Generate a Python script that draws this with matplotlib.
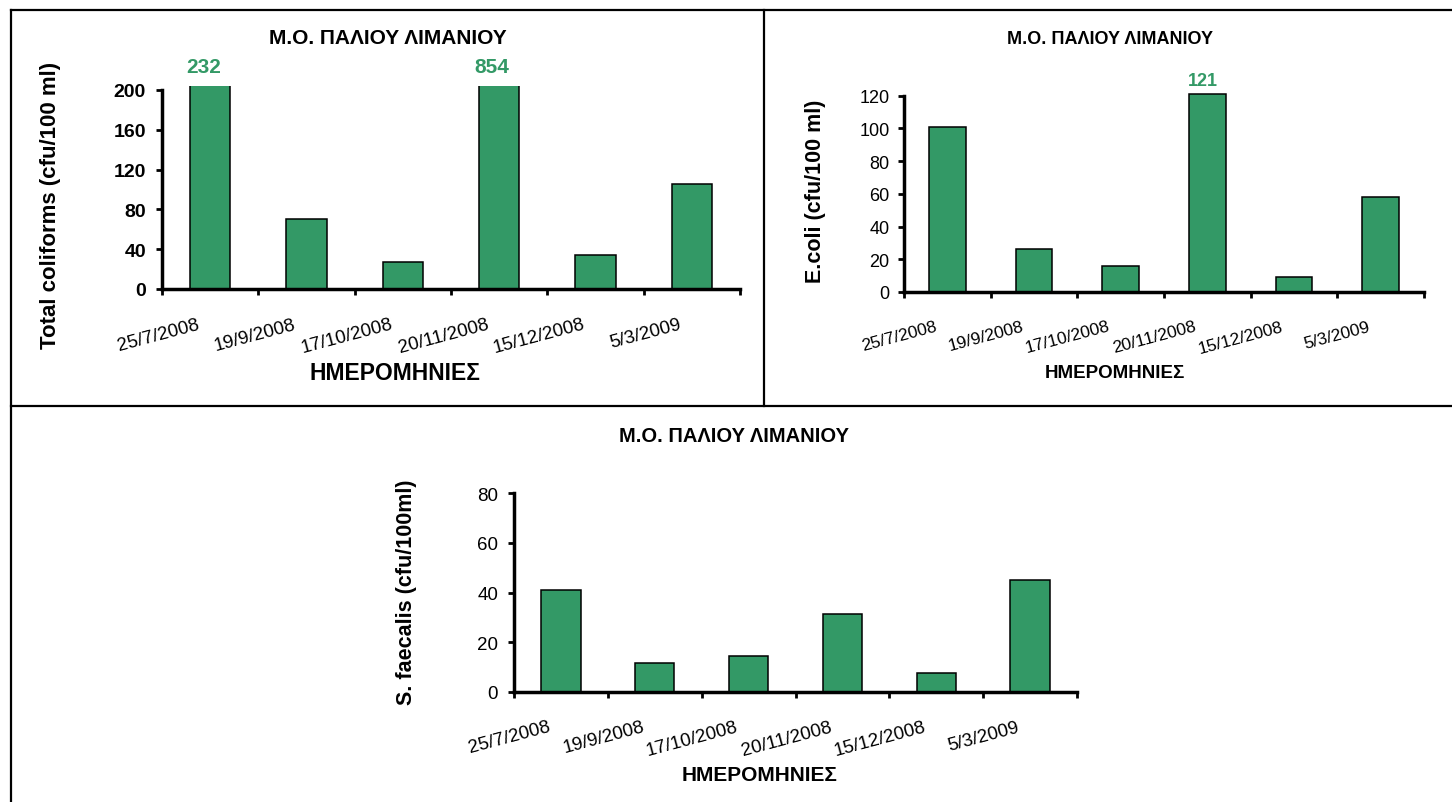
import matplotlib
matplotlib.use("Agg")
import matplotlib.pyplot as plt
from matplotlib.lines import Line2D
from matplotlib.transforms import ScaledTranslation

plt.rcParams['font.family'] = ['Liberation Sans', 'DejaVu Sans']

# Δεδομένα
dates = ['25/7/2008', '19/9/2008', '17/10/2008', '20/11/2008', '15/12/2008', '5/3/2009']
total_coliforms = [232, 70, 27, 854, 34, 106]
e_coli = [101, 26, 16, 121, 9, 58]
s_faecalis = [41, 11.5, 14.5, 31.5, 7.5, 45]

title = 'Μ.Ο. ΠΑΛΙΟΥ ΛΙΜΑΝΙΟΥ'
xlabel = 'ΗΜΕΡΟΜΗΝΙΕΣ'
green = '#339966'

W, H = 1452, 803
fig = plt.figure(figsize=(W / 100, H / 100), dpi=100)


def fx(x):
    return x / W


def fy(y):
    return 1 - y / H


def bar_panel(rect, values, ymax, ytop, yticks, tick_bold, ytick_size, xtick_size, ypad):
    ax = fig.add_axes(rect)
    x = range(len(values))
    ax.bar(x, values, width=0.42, color=green, edgecolor='black', linewidth=1.1)
    ax.set_xlim(-0.5, len(values) - 0.5)
    ax.set_ylim(0, ytop)
    for s in ['top', 'right']:
        ax.spines[s].set_visible(False)
    ax.spines['left'].set_bounds(0, ymax)
    ax.spines['left'].set_linewidth(2.5)
    ax.spines['bottom'].set_linewidth(2.5)
    ax.set_yticks(yticks)
    ax.set_yticklabels([str(t) for t in yticks],
                       fontweight='bold' if tick_bold else 'normal', fontsize=ytick_size)
    ax.tick_params(axis='y', direction='out', length=4.5, width=2, pad=ypad)
    # marks between categories, labels on categories
    ax.set_xticks([i - 0.5 for i in range(len(values) + 1)], minor=True)
    ax.set_xticks(list(x))
    ax.set_xticklabels(dates, rotation=15, ha='right', va='top',
                       rotation_mode='anchor', fontsize=xtick_size)
    ax.tick_params(axis='x', which='major', length=0, pad=19)
    ax.tick_params(axis='x', which='minor', direction='out', length=4.5, width=2)
    off = ScaledTranslation(-13 / 100, 0, fig.dpi_scale_trans)
    for lbl in ax.get_xticklabels():
        lbl.set_transform(lbl.get_transform() + off)
    return ax


# πάνω αριστερά
ax1 = bar_panel([fx(162), fy(290), fx(740) - fx(162), fy(87) - fy(290)],
                total_coliforms, 200, 204, [0, 40, 80, 120, 160, 200], True, 14, 13.5, 7)
for i, v in enumerate(total_coliforms):
    if v > 204:
        ax1.annotate(str(v), (i, 204), xytext=(-5, 14), textcoords='offset points',
                     ha='center', va='center', color=green, fontweight='bold', fontsize=15)

# πάνω δεξιά
ax2 = bar_panel([fx(904), fy(293), fx(1424) - fx(904), fy(93.4) - fy(293)],
                e_coli, 120, 122, [0, 20, 40, 60, 80, 100, 120], False, 13, 12.5, 6)
ax2.annotate(str(max(e_coli)), (e_coli.index(max(e_coli)), max(e_coli)), xytext=(-3, 10),
             textcoords='offset points', ha='center', va='center',
             color=green, fontweight='bold', fontsize=13)

# κάτω
ax3 = bar_panel([fx(514), fy(692.7), fx(1077) - fx(514), fy(494.3) - fy(692.7)],
                s_faecalis, 80, 80, [0, 20, 40, 60, 80], False, 13.5, 13.5, 7)

# τίτλοι και ετικέτες
for cx, cy, fs in [(388, 39, 15), (1110, 39, 13), (734, 437, 14.5)]:
    fig.text(fx(cx), fy(cy), title, ha='center', va='center', fontweight='bold', fontsize=fs)
for cx, cy, fs in [(395, 373, 16.5), (1115, 373, 13.5), (760, 776, 15)]:
    fig.text(fx(cx), fy(cy), xlabel, ha='center', va='center', fontweight='bold', fontsize=fs)
ylabels = [('Total coliforms (cfu/100 ml)', 51, 205, 16),
           ('E.coli (cfu/100 ml)', 815, 191, 15.5),
           ('S. faecalis (cfu/100ml)', 407, 592, 15.5)]
for txt, cx, cy, fs in ylabels:
    fig.text(fx(cx), fy(cy), txt, ha='center', va='center', rotation=90,
             fontweight='bold', fontsize=fs)

# πλαίσια
lw = 1.6
fig.add_artist(Line2D([fx(11), fx(11)], [fy(11), fy(H + 5)], color='black', lw=lw))
fig.add_artist(Line2D([fx(11), fx(W + 5)], [fy(11), fy(11)], color='black', lw=lw))
fig.add_artist(Line2D([fx(11), fx(W + 5)], [fy(407), fy(407)], color='black', lw=lw))
fig.add_artist(Line2D([fx(764), fx(764)], [fy(11), fy(407)], color='black', lw=lw))

fig.savefig('out.png', dpi=100, facecolor='white')
